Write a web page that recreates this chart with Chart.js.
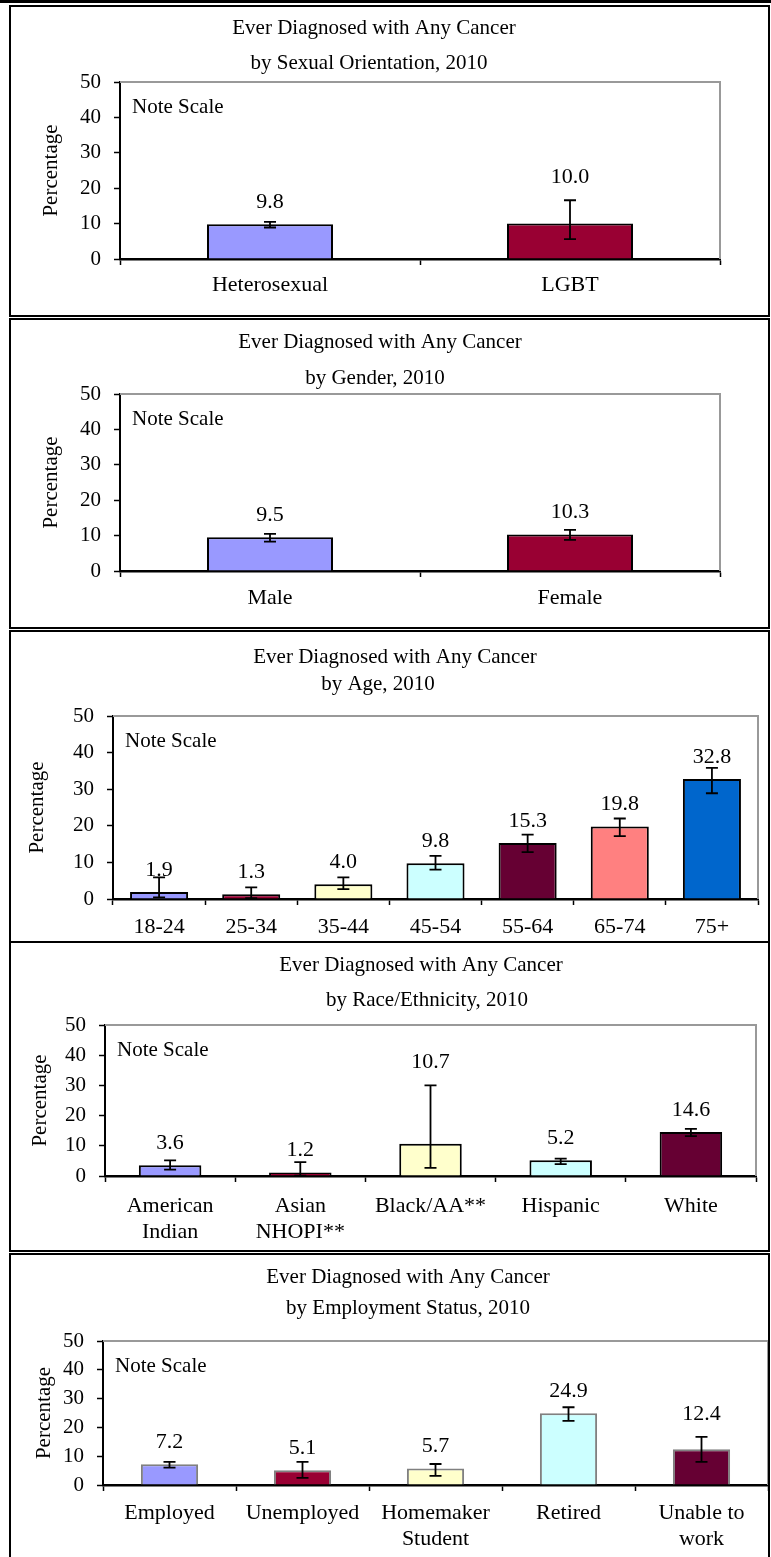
<!DOCTYPE html>
<html>
<head>
<meta charset="utf-8">
<script src="https://cdn.jsdelivr.net/npm/chart.js@4.4.0/dist/chart.umd.min.js"></script>
<style>
  body { margin: 0; background: #fff; width: 771px; height: 1557px; position: relative; overflow: hidden; }
  .topline { position: absolute; left: 0; top: 0; width: 771px; height: 3px; background: #000; }
  .panel { position: absolute; left: 9px; width: 757px; border: 2px solid #000; background: #fff; }
  canvas { display: block; }
</style>
</head>
<body>
<div class="topline"></div>
<div class="panel" style="top:5px;height:308px"><canvas id="orientChart" width="757" height="308"></canvas></div>
<div class="panel" style="top:318px;height:307px"><canvas id="genderChart" width="757" height="307"></canvas></div>
<div class="panel" style="top:630px;height:309px;border-bottom:none"><canvas id="ageChart" width="757" height="309"></canvas></div>
<div class="panel" style="top:941px;height:307px"><canvas id="raceChart" width="757" height="307"></canvas></div>
<div class="panel" style="top:1253px;height:302px;border-bottom:none"><canvas id="employChart" width="757" height="302"></canvas></div>
<script>
const FONT = '"Liberation Serif", "Times New Roman", serif';
const TITLE = 'Ever Diagnosed with Any Cancer';

// sexual orientation
const orientLabels = ['Heterosexual', 'LGBT'];
const orientValues = [9.8, 10.0];
const orientLow = [8.9, 5.6];
const orientHigh = [10.5, 16.6];

// gender
const genderLabels = ['Male', 'Female'];
const genderValues = [9.5, 10.3];
const genderLow = [8.3, 8.8];
const genderHigh = [10.5, 11.6];

// age
const ageLabels = ['18-24', '25-34', '35-44', '45-54', '55-64', '65-74', '75+'];
const ageValues = [1.9, 1.3, 4.0, 9.8, 15.3, 19.8, 32.8];
const ageLow = [0.45, 0.2, 2.7, 8.0, 12.8, 17.2, 28.9];
const ageHigh = [5.9, 3.2, 5.9, 11.8, 17.6, 22.0, 35.8];

// race / ethnicity
const raceLabels = [['American', 'Indian'], ['Asian', 'NHOPI**'], 'Black/AA**', 'Hispanic', 'White'];
const raceValues = [3.6, 1.2, 10.7, 5.2, 14.6];
const raceLow = [2.1, 0.1, 2.7, 3.9, 13.2];
const raceHigh = [5.2, 4.6, 30.0, 5.75, 15.6];

// employment status
const employLabels = ['Employed', 'Unemployed', ['Homemaker', 'Student'], 'Retired', ['Unable to', 'work']];
const employValues = [7.2, 5.1, 5.7, 24.9, 12.4];
const employLow = [6.0, 2.5, 3.2, 22.3, 8.0];
const employHigh = [8.0, 8.0, 7.3, 27.0, 16.7];

const yTicks = [0, 10, 20, 30, 40, 50];

const lavender = '#9999FF', maroon = '#990033', cream = '#FFFFCC', aqua = '#CCFFFF',
      plum = '#660033', salmon = '#FF8080', blue = '#0066CC';

function panelPlugin(cfg) {
  return {
    id: 'panel_' + cfg.id,
    beforeDatasetsDraw(chart) {
      const ctx = chart.ctx, a = chart.chartArea;
      ctx.save();
      // grey frame top/right of plot
      ctx.strokeStyle = '#999999';
      ctx.lineWidth = 2;
      ctx.beginPath();
      ctx.moveTo(a.left, a.top);
      ctx.lineTo(a.right, a.top);
      ctx.lineTo(a.right, a.bottom);
      ctx.stroke();
      ctx.fillStyle = '#000';
      ctx.textBaseline = 'middle';
      ctx.textAlign = 'left';
      ctx.font = '21px ' + FONT;
      ctx.fillText('Note Scale', a.left + 12, a.top + 25);
      ctx.font = '21px ' + FONT;
      ctx.textAlign = 'center';
      cfg.titles.forEach(t => ctx.fillText(t[0], t[1], t[2]));
      ctx.restore();
    },
    afterDatasetsDraw(chart) {
      const ctx = chart.ctx;
      const y = chart.scales.y;
      const meta = chart.getDatasetMeta(0);
      ctx.save();
      ctx.strokeStyle = '#000';
      ctx.lineWidth = 1.8;
      ctx.fillStyle = '#000';
      ctx.font = '22px ' + FONT;
      ctx.textAlign = 'center';
      ctx.textBaseline = 'middle';
      meta.data.forEach((bar, i) => {
        const x = bar.x;
        const yHi = y.getPixelForValue(cfg.high[i]);
        const yLo = y.getPixelForValue(cfg.low[i]);
        ctx.beginPath();
        ctx.moveTo(x, yHi); ctx.lineTo(x, yLo);
        ctx.moveTo(x - 6, yHi); ctx.lineTo(x + 6, yHi);
        ctx.moveTo(x - 6, yLo); ctx.lineTo(x + 6, yLo);
        ctx.stroke();
        // label sits on the bar, or above a long error bar
        let anchor = bar.y - 22;
        if (cfg.high[i] - cfg.values[i] > 4.2) anchor = yHi - 23;
        ctx.fillText(cfg.values[i].toFixed(1), x, anchor);
      });
      ctx.restore();
    }
  };
}

function drawPanel(cfg) {
  new Chart(document.getElementById(cfg.id), {
    type: 'bar',
    data: {
      labels: cfg.labels,
      datasets: [{
        data: cfg.values,
        backgroundColor: cfg.colors,
        borderColor: cfg.edge,
        borderWidth: 2,
        barPercentage: cfg.barPct,
        categoryPercentage: 1
      }]
    },
    options: {
      responsive: false,
      animation: false,
      devicePixelRatio: 1,
      layout: { padding: { top: cfg.top, left: 0, right: cfg.right, bottom: 0 } },
      plugins: { legend: { display: false }, tooltip: { enabled: false } },
      scales: {
        x: {
          z: 1,
          grid: { drawOnChartArea: false, drawTicks: true, tickLength: 6, tickColor: '#000', tickWidth: 1.5 },
          border: { color: '#000', width: 2.5 },
          ticks: { color: '#000', font: { family: FONT, size: 22, lineHeight: 1.2 }, padding: cfg.xPad,
                   maxRotation: 0, autoSkip: false },
          afterFit: s => { s.height = cfg.xHeight; }
        },
        y: {
          min: 0,
          max: 50,
          afterBuildTicks: s => { s.ticks = yTicks.map(v => ({ value: v })); },
          grid: { drawOnChartArea: false, drawTicks: true, tickLength: 6, tickColor: '#000', tickWidth: 1.5 },
          border: { color: '#000', width: 2 },
          ticks: { color: '#000', font: { family: FONT, size: 21 }, padding: 13 },
          title: { display: true, text: 'Percentage', color: '#000',
                   font: { family: FONT, size: 21 }, padding: { top: cfg.yTitlePad, bottom: 0 } },
          afterFit: s => { s.width = cfg.yWidth; }
        }
      }
    },
    plugins: [panelPlugin(cfg)]
  });
}

drawPanel({
  id: 'orientChart', labels: orientLabels, values: orientValues, low: orientLow, high: orientHigh,
  colors: [lavender, maroon], edge: '#000', barPct: 0.42,
  top: 75, yWidth: 109, right: 48, xHeight: 56, yTitlePad: 28, xPad: 7,
  titles: [[TITLE, 363, 21], ['by Sexual Orientation, 2010', 358, 56]]
});
drawPanel({
  id: 'genderChart', labels: genderLabels, values: genderValues, low: genderLow, high: genderHigh,
  colors: [lavender, maroon], edge: '#000', barPct: 0.42,
  top: 74, yWidth: 109, right: 48, xHeight: 56, yTitlePad: 28, xPad: 8,
  titles: [[TITLE, 369, 22], ['by Gender, 2010', 364, 58]]
});
drawPanel({
  id: 'ageChart', labels: ageLabels, values: ageValues, low: ageLow, high: ageHigh,
  colors: [lavender, maroon, cream, aqua, plum, salmon, blue], edge: '#000', barPct: 0.63,
  top: 84, yWidth: 102, right: 10, xHeight: 42, yTitlePad: 14, xPad: 9,
  titles: [[TITLE, 384, 25], ['by Age, 2010', 367, 52]]
});
drawPanel({
  id: 'raceChart', labels: raceLabels, values: raceValues, low: raceLow, high: raceHigh,
  colors: [lavender, maroon, cream, aqua, plum], edge: '#000', barPct: 0.48,
  top: 82, yWidth: 94, right: 12, xHeight: 74, yTitlePad: 17, xPad: 11,
  titles: [[TITLE, 410, 22], ['by Race/Ethnicity, 2010', 416, 57]]
});
drawPanel({
  id: 'employChart', labels: employLabels, values: employValues, low: employLow, high: employHigh,
  colors: [lavender, maroon, cream, aqua, plum], edge: '#808080', barPct: 0.43,
  top: 86, yWidth: 92, right: 0, xHeight: 72, yTitlePad: 21, xPad: 9,
  titles: [[TITLE, 397, 22], ['by Employment Status, 2010', 397, 53]]
});
</script>
</body>
</html>
